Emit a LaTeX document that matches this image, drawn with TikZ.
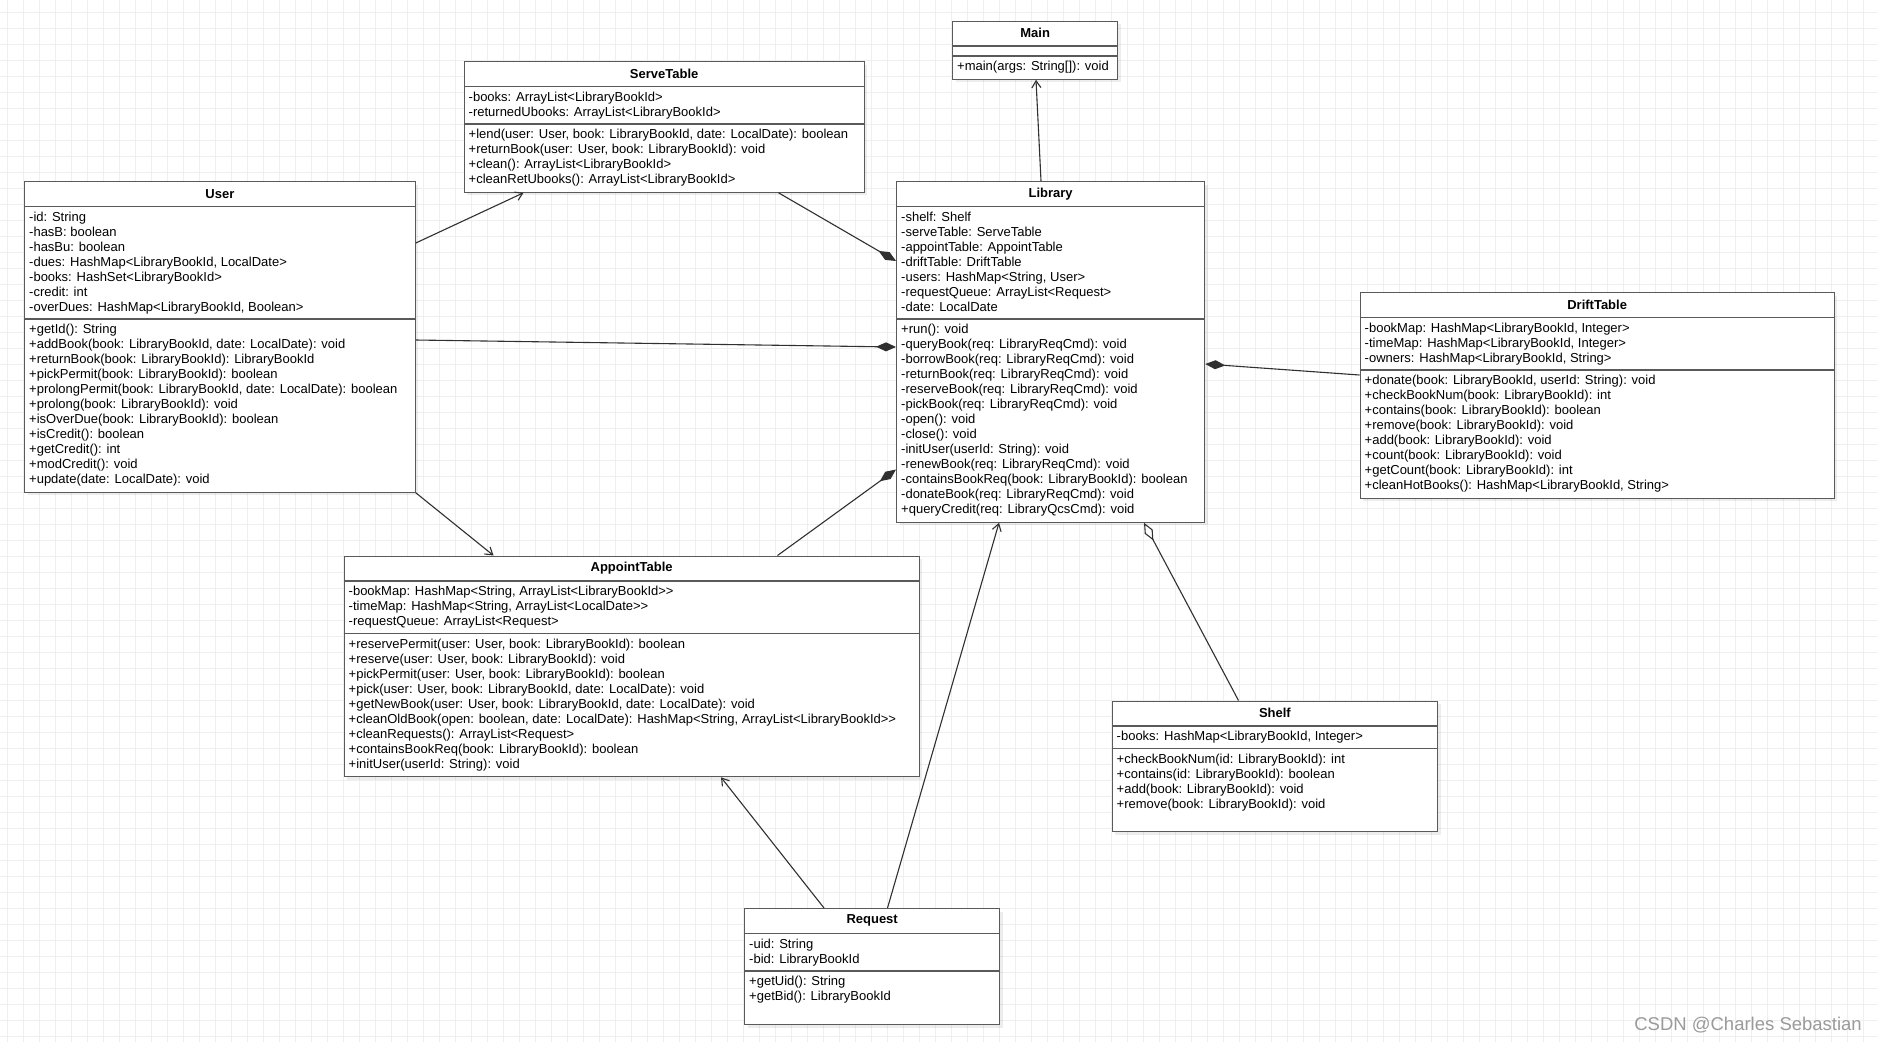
\documentclass[tikz,border=0pt]{standalone}
\usepackage{fontspec}
\setmainfont{Liberation Sans}[Ligatures=TeXOff]
\usetikzlibrary{arrows.meta,calc,shadows}
\definecolor{boxline}{HTML}{5A5A5A}
\definecolor{gridline}{HTML}{EFEFEF}
\definecolor{connline}{HTML}{303030}
\definecolor{markgray}{HTML}{9A9A9A}
\tikzset{
    gridsty/.style={draw=gridline, line width=1.3pt},
    boxsty/.style={draw=boxline, fill=white, line width=1.3pt, rectangle, anchor=north west, inner sep=0pt,
                   drop shadow={shadow xshift=3pt, shadow yshift=-3pt, fill=black, opacity=0.07}},
    titlesty/.style={font=\fontsize{13}{15}\selectfont\bfseries, inner sep=0pt, anchor=center},
    sepsty/.style={draw=boxline, line width=1.3pt},
    rowsty/.style={font=\fontsize{13}{15}\selectfont, inner sep=0pt, anchor=base west},
    assocsty/.style={draw=connline, line width=1.1pt, -{Straight Barb[length=7pt,width=9pt]}},
    compsty/.style={draw=connline, line width=1.1pt, -{Diamond[length=20pt,width=9pt]}},
    aggsty/.style={draw=connline, line width=1.1pt, -{Diamond[length=20pt,width=9pt,fill=white]}},
}
% name, corner, width, title, attr height, method height, attrs, methods
\newcommand{\umlclass}[8]{%
  \node[boxsty, minimum width=#3, minimum height=25.5pt+#5+#6] (#1) at (#2) {};
  \node[titlesty] (#1-t) at ([yshift=-12.75pt]#1.north) {#4};
  \draw[sepsty] ([yshift=-25.5pt]#1.north west) -- ([yshift=-25.5pt]#1.north east);
  \draw[sepsty] ([yshift=-25.5pt-#5]#1.north west) -- ([yshift=-25.5pt-#5]#1.north east);
  \foreach \t [count=\i] in {#7}
    \node[rowsty] (#1-a\i) at ([xshift=5pt, yshift={-40pt-(\i-1)*15pt}]#1.north west) {\t};
  \foreach \t [count=\i] in {#8}
    \node[rowsty] (#1-m\i) at ([xshift=5pt, yshift={-40pt-#5-(\i-1)*15pt}]#1.north west) {\t};
}

\begin{document}
\begin{tikzpicture}[x=1pt, y=-1pt]
  \useasboundingbox[fill=white] (0,0) rectangle (1878,1042);
  % background grid
  \foreach \gx in {7.7,23.7,...,1878} \draw[gridsty] (\gx,0) -- (\gx,1042);
  \foreach \gy in {12.7,28.7,...,1042} \draw[gridsty] (0,\gy) -- (1878,\gy);

  \umlclass{main}{952,20.5}{165pt}{Main}{10pt}{22.5pt}{}{{+main(args: String[]): void}}

  \umlclass{serve}{463.5,61}{400pt}{ServeTable}{37.5pt}{67.5pt}
    {{-books: ArrayList<LibraryBookId>},{-returnedUbooks: ArrayList<LibraryBookId>}}
    {{+lend(user: User, book: LibraryBookId, date: LocalDate): boolean},
     {+returnBook(user: User, book: LibraryBookId): void},
     {+clean(): ArrayList<LibraryBookId>},
     {+cleanRetUbooks(): ArrayList<LibraryBookId>}}

  \umlclass{user}{24,181}{390.5pt}{User}{112.5pt}{172.5pt}
    {{-id: String},{-hasB: boolean},{-hasBu: boolean},
     {-dues: HashMap<LibraryBookId, LocalDate>},
     {-books: HashSet<LibraryBookId>},{-credit: int},
     {-overDues: HashMap<LibraryBookId, Boolean>}}
    {{+getId(): String},
     {+addBook(book: LibraryBookId, date: LocalDate): void},
     {+returnBook(book: LibraryBookId): LibraryBookId},
     {+pickPermit(book: LibraryBookId): boolean},
     {+prolongPermit(book: LibraryBookId, date: LocalDate): boolean},
     {+prolong(book: LibraryBookId): void},
     {+isOverDue(book: LibraryBookId): boolean},
     {+isCredit(): boolean},{+getCredit(): int},{+modCredit(): void},
     {+update(date: LocalDate): void}}

  \umlclass{library}{896,181}{308pt}{Library}{112.5pt}{202.5pt}
    {{-shelf: Shelf},{-serveTable: ServeTable},{-appointTable: AppointTable},
     {-driftTable: DriftTable},{-users: HashMap<String, User>},
     {-requestQueue: ArrayList<Request>},{-date: LocalDate}}
    {{+run(): void},
     {-queryBook(req: LibraryReqCmd): void},
     {-borrowBook(req: LibraryReqCmd): void},
     {-returnBook(req: LibraryReqCmd): void},
     {-reserveBook(req: LibraryReqCmd): void},
     {-pickBook(req: LibraryReqCmd): void},
     {-open(): void},{-close(): void},
     {-initUser(userId: String): void},
     {-renewBook(req: LibraryReqCmd): void},
     {-containsBookReq(book: LibraryBookId): boolean},
     {-donateBook(req: LibraryReqCmd): void},
     {+queryCredit(req: LibraryQcsCmd): void}}

  \umlclass{drift}{1359.5,292}{474pt}{DriftTable}{52.5pt}{127.5pt}
    {{-bookMap: HashMap<LibraryBookId, Integer>},
     {-timeMap: HashMap<LibraryBookId, Integer>},
     {-owners: HashMap<LibraryBookId, String>}}
    {{+donate(book: LibraryBookId, userId: String): void},
     {+checkBookNum(book: LibraryBookId): int},
     {+contains(book: LibraryBookId): boolean},
     {+remove(book: LibraryBookId): void},
     {+add(book: LibraryBookId): void},
     {+count(book: LibraryBookId): void},
     {+getCount(book: LibraryBookId): int},
     {+cleanHotBooks(): HashMap<LibraryBookId, String>}}

  \umlclass{appoint}{343.5,555.5}{575pt}{AppointTable}{52.5pt}{142.5pt}
    {{-bookMap: HashMap<String, ArrayList<LibraryBookId>>},
     {-timeMap: HashMap<String, ArrayList<LocalDate>>},
     {-requestQueue: ArrayList<Request>}}
    {{+reservePermit(user: User, book: LibraryBookId): boolean},
     {+reserve(user: User, book: LibraryBookId): void},
     {+pickPermit(user: User, book: LibraryBookId): boolean},
     {+pick(user: User, book: LibraryBookId, date: LocalDate): void},
     {+getNewBook(user: User, book: LibraryBookId, date: LocalDate): void},
     {+cleanOldBook(open: boolean, date: LocalDate): HashMap<String, ArrayList<LibraryBookId>>},
     {+cleanRequests(): ArrayList<Request>},
     {+containsBookReq(book: LibraryBookId): boolean},
     {+initUser(userId: String): void}}

  \umlclass{shelf}{1111.5,700.5}{325.5pt}{Shelf}{22.5pt}{82.5pt}
    {{-books: HashMap<LibraryBookId, Integer>}}
    {{+checkBookNum(id: LibraryBookId): int},
     {+contains(id: LibraryBookId): boolean},
     {+add(book: LibraryBookId): void},
     {+remove(book: LibraryBookId): void}}

  \umlclass{request}{744,908}{255pt}{Request}{37.5pt}{53pt}
    {{-uid: String},{-bid: LibraryBookId}}
    {{+getUid(): String},{+getBid(): LibraryBookId}}

  % relations
  \draw[assocsty] ([yshift=-62pt]user.north east) -- ([xshift=60pt]serve.south west);
  \draw[compsty] ([xshift=315pt]serve.south west) -- ([yshift=-80pt]library.north west);
  \draw[compsty] ([yshift=-159pt]user.north east) -- ([yshift=-166pt]library.north west);
  \draw[assocsty] (user.south east) -- ([xshift=150pt]appoint.north west);
  \draw[compsty] ([xshift=434pt]appoint.north west) -- ([yshift=-288.5pt]library.north west);
  \draw[assocsty] ([xshift=145pt]library.north west) -- ([xshift=84pt]main.south west);
  \draw[compsty] ([yshift=-83pt]drift.north west) -- ([yshift=-183pt]library.north east);
  \draw[aggsty] ([xshift=127pt]shelf.north west) -- ([xshift=248pt]library.south west);
  \draw[assocsty] ([xshift=80pt]request.north west) -- ([xshift=377.5pt]appoint.south west);
  \draw[assocsty] ([xshift=143.5pt]request.north west) -- ([xshift=103pt]library.south west);

  \node[font=\fontsize{18.5}{20}\selectfont, text=markgray, anchor=east, inner sep=0pt] (mark) at (1862,1025) {CSDN @Charles Sebastian};
\end{tikzpicture}
\end{document}
